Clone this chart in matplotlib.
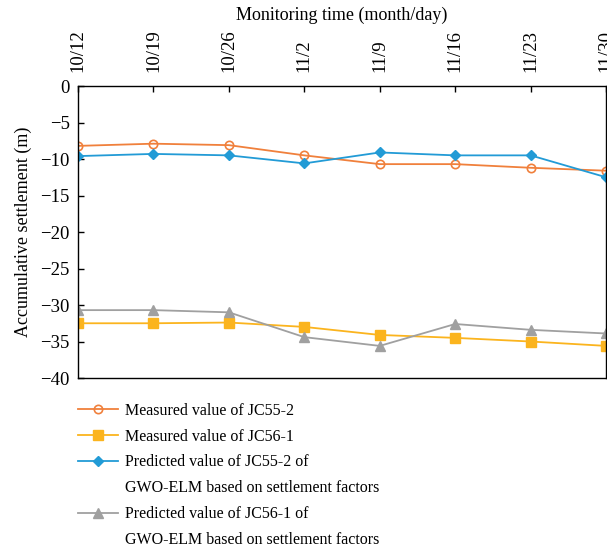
import numpy as np
import matplotlib.pyplot as plt

plt.rcParams['font.family'] = ['Liberation Serif', 'DejaVu Serif']
plt.rcParams['axes.unicode_minus'] = True

dates = ['10/12', '10/19', '10/26', '11/2', '11/9', '11/16', '11/23', '11/30']
meas_jc55 = [-8.2, -7.9, -8.1, -9.5, -10.7, -10.7, -11.2, -11.6]
meas_jc56 = [-32.5, -32.5, -32.4, -33.0, -34.1, -34.5, -35.0, -35.6]
pred_jc55 = [-9.6, -9.3, -9.5, -10.6, -9.1, -9.5, -9.5, -12.5]
pred_jc56 = [-30.7, -30.7, -31.0, -34.4, -35.6, -32.6, -33.4, -33.9]

x = np.arange(len(dates))

fig = plt.figure(figsize=(6.07, 5.5), dpi=100)
ax = fig.add_axes([0.1285, 0.3127, 0.8700, 0.5309])

h1, = ax.plot(x, meas_jc55, color='#F0803C', marker='o', mfc='none', mec='#F0803C',
              ms=6, mew=1.2, lw=1.3)
h2, = ax.plot(x, meas_jc56, color='#FBB41E', marker='s', ms=7, lw=1.3)
h3, = ax.plot(x, pred_jc55, color='#229BD6', marker='D', ms=5, lw=1.3)
h4, = ax.plot(x, pred_jc56, color='#A0A0A0', marker='^', ms=7, lw=1.3)

ax.set_xlim(0, 7)
ax.set_ylim(-40, 0)
ax.set_yticks(np.arange(-40, 1, 5))
ax.set_xticks(x)
ax.set_xticklabels(dates, rotation=90)
ax.xaxis.tick_top()
ax.xaxis.set_label_position('top')
ax.tick_params(axis='both', direction='in', labelsize=13.5, length=4, width=1)
ax.tick_params(axis='x', pad=10)
ax.tick_params(axis='y', pad=6)
ax.set_xlabel('Monitoring time (month/day)', fontsize=13, labelpad=7)
ax.set_ylabel('Accumulative settlement (m)', fontsize=13, labelpad=6)
for s in ax.spines.values():
    s.set_linewidth(1)

# second lines of the long labels get an empty handle so the marks sit on the first line
blank = plt.Line2D([], [], color='none')
handles = [h1, h2, h3, blank, h4, blank]
labels = ['Measured value of JC55-2',
          'Measured value of JC56-1',
          'Predicted value of JC55-2 of',
          'GWO-ELM based on settlement factors',
          'Predicted value of JC56-1 of',
          'GWO-ELM based on settlement factors']
fig.legend(handles, labels, loc='upper left', bbox_to_anchor=(0.128, 0.268),
           frameon=False, fontsize=11.5, handlelength=2.5, handletextpad=0.45,
           labelspacing=0.62, borderaxespad=0, borderpad=0)

fig.savefig('out.png', dpi=100)
